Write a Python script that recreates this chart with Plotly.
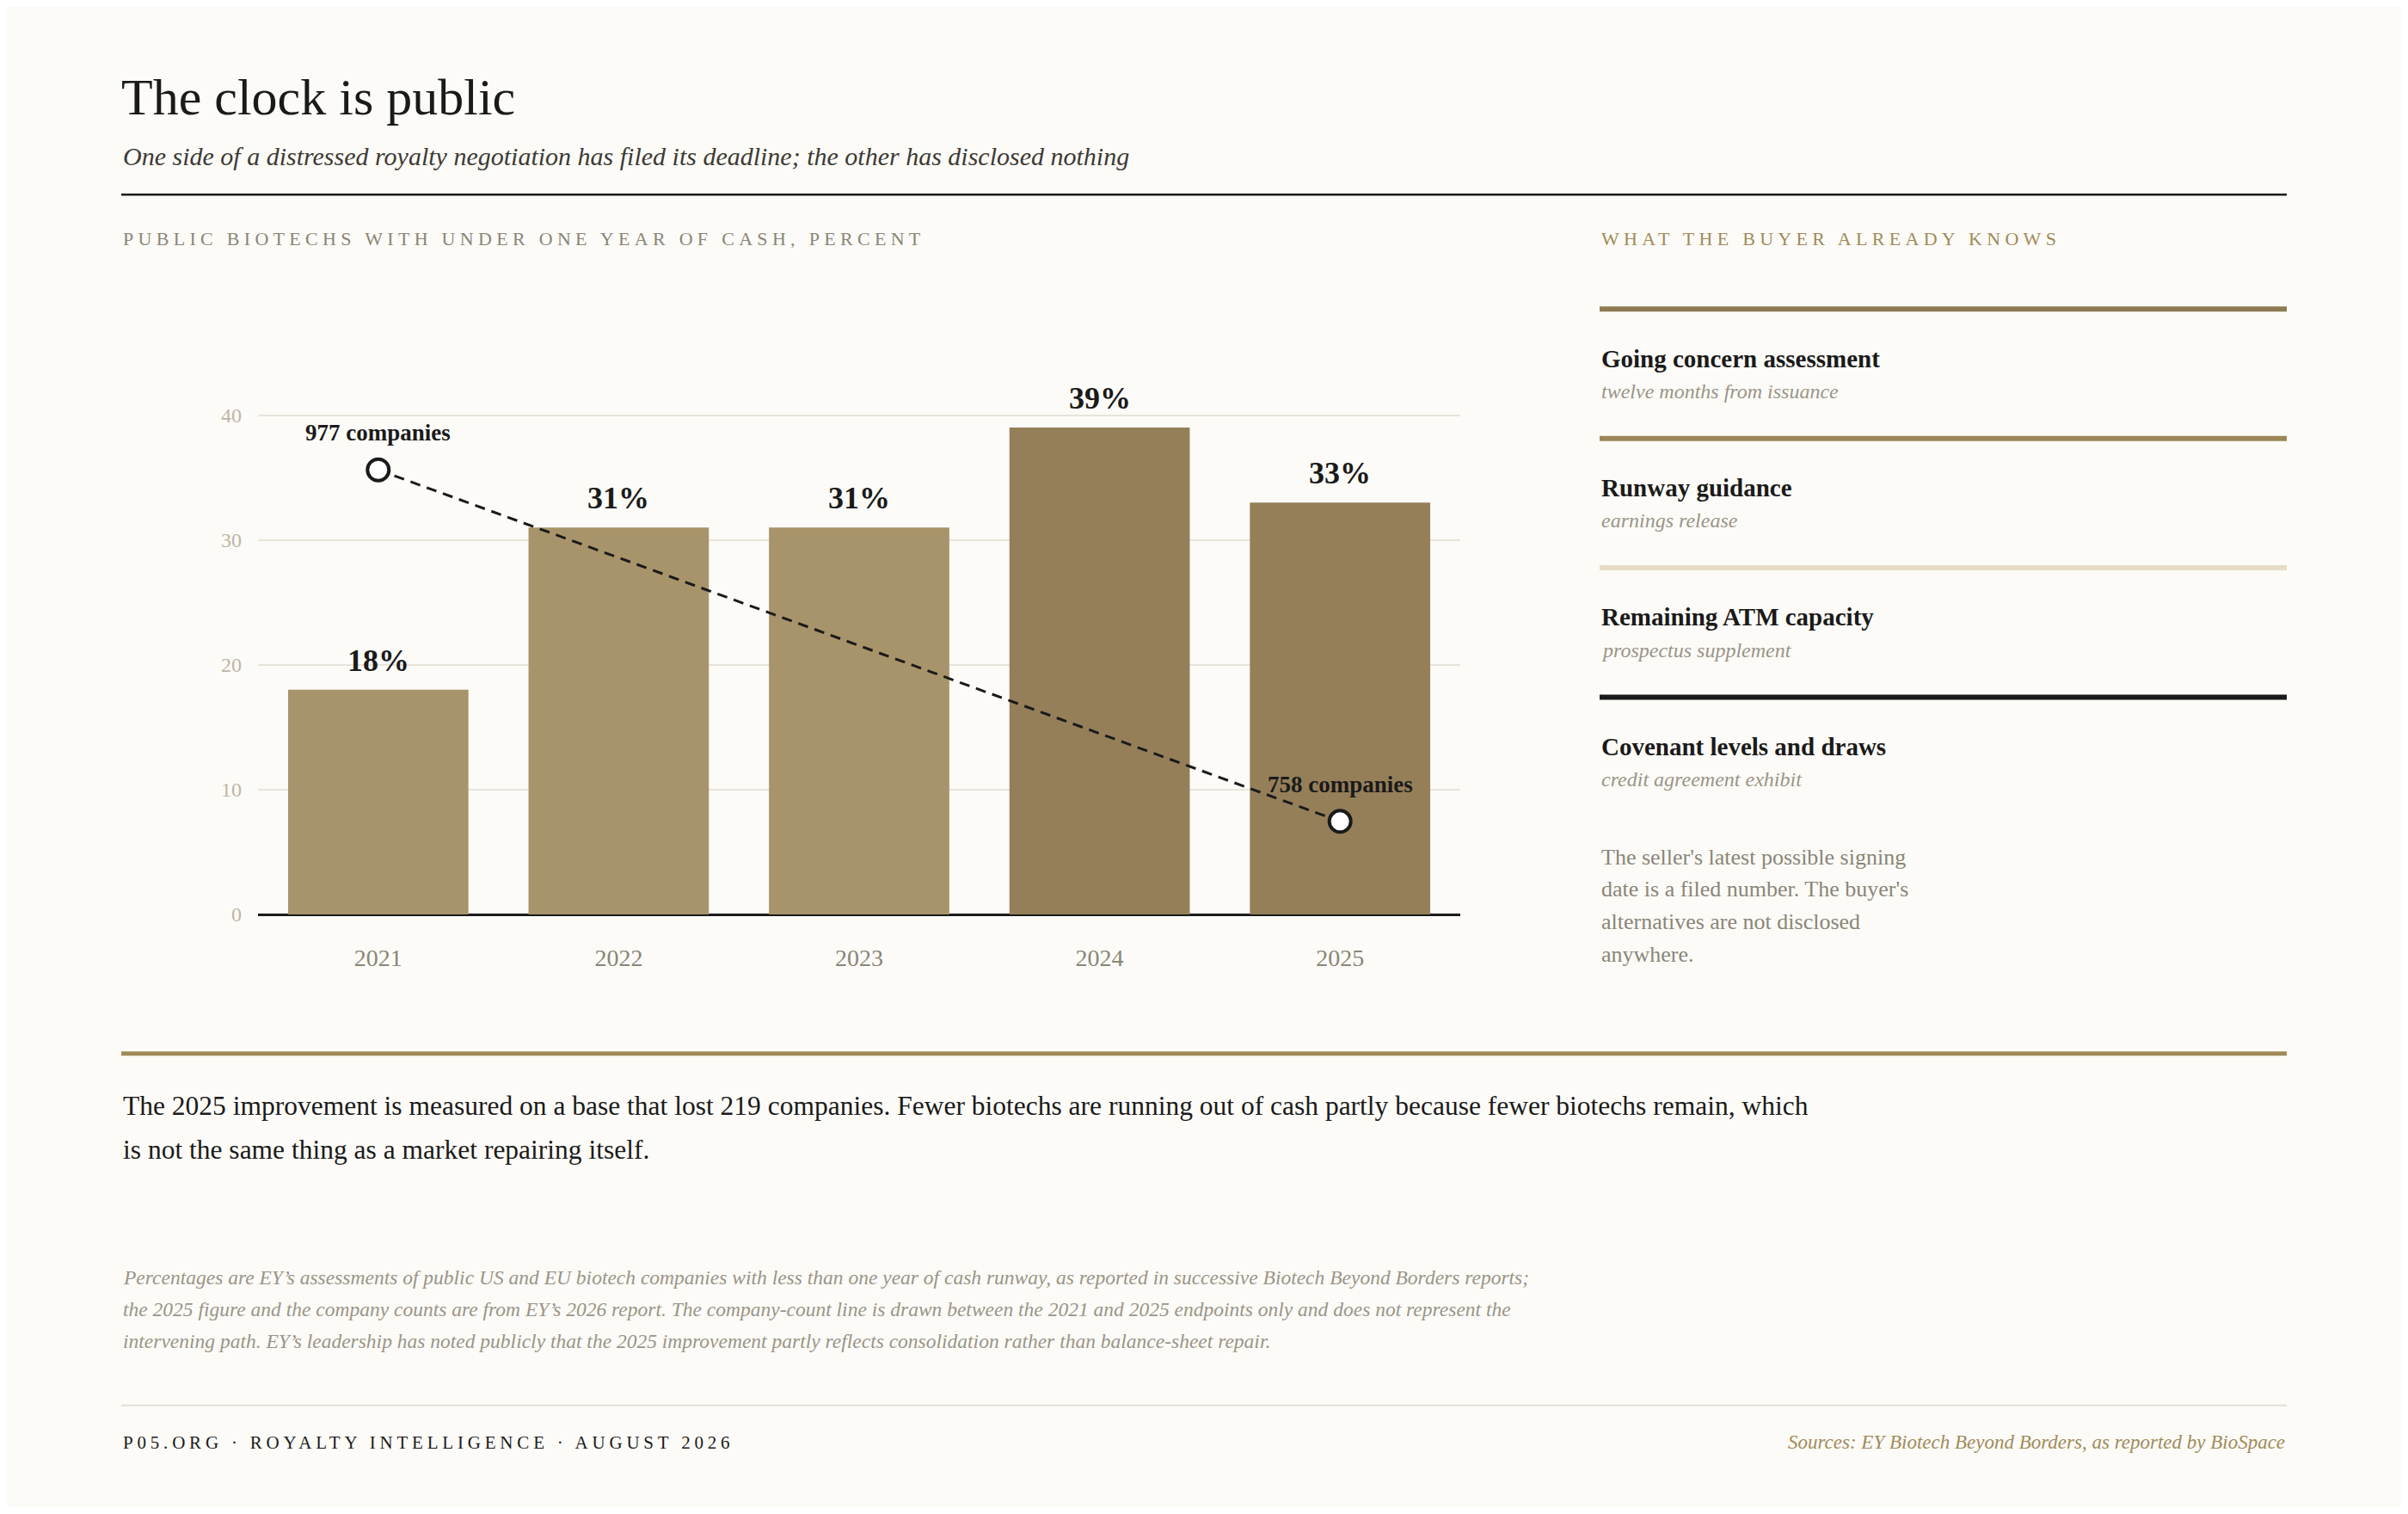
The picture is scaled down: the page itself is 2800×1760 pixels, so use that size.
import plotly.graph_objects as go

# 1. Data
years = ["2021", "2022", "2023", "2024", "2025"]
pct_under_one_year = [18, 31, 31, 39, 33]

count_years = ["2021", "2025"]
company_counts = [977, 758]

buyer_items = [
    "Going concern assessment",
    "Runway guidance",
    "Remaining ATM capacity",
    "Covenant levels and draws",
]
buyer_sources = [
    "twelve months from issuance",
    "earnings release",
    "prospectus supplement",
    "credit agreement exhibit",
]

side_note = [
    "The seller's latest possible signing",
    "date is a filed number. The buyer's",
    "alternatives are not disclosed",
    "anywhere.",
]
takeaway = [
    "The 2025 improvement is measured on a base that lost 219 companies. Fewer biotechs are running out of cash partly because fewer biotechs remain, which",
    "is not the same thing as a market repairing itself.",
]
footnote = [
    "Percentages are EY’s assessments of public US and EU biotech companies with less than one year of cash runway, as reported in successive Biotech Beyond Borders reports;",
    "the 2025 figure and the company counts are from EY’s 2026 report. The company-count line is drawn between the 2021 and 2025 endpoints only and does not represent the",
    "intervening path. EY’s leadership has noted publicly that the 2025 improvement partly reflects consolidation rather than balance-sheet repair.",
]

# 2. Style
# the page body keeps an 8px margin, so the figure sits 8px in from the corner
OFF = 8
W, H = 2784, 1744
SERIF = "Liberation Serif, Times New Roman, serif"
BG = "#fcfbf7"
INK = "#1a1a1a"
GRAY = "#8a8578"
SOFT = "#9a9488"
GOLD = "#a08a5a"
bar_colors = ["#a8946a", "#a8946a", "#a8946a", "#957f59", "#957f59"]
rule_colors = ["#8e7a52", "#9c8659", "#e6dcc6", "#1a1a1a"]


def px(x):
    return (x - OFF) / W


def py(y):
    return 1 - (y - OFF) / H


def spaced(text, gap=4.8):
    return f'<span style="letter-spacing:{gap}px">{text}</span>'


fig = go.Figure()

fig.add_trace(go.Bar(
    x=years, y=pct_under_one_year,
    marker=dict(color=bar_colors, line=dict(width=0)),
    hovertemplate="%{x}: %{y}%<extra></extra>",
))

# company-count endpoints on a hidden second axis
fig.add_trace(go.Scatter(
    x=count_years, y=company_counts, yaxis="y2",
    mode="lines+markers",
    line=dict(color=INK, width=3, dash="12px,8px"),
    marker=dict(symbol="circle", size=25, color="#ffffff",
                line=dict(color=INK, width=4)),
    hovertemplate="%{x}: %{y} companies<extra></extra>",
))

for i, v in enumerate(pct_under_one_year):
    fig.add_annotation(
        x=i, y=v, xref="x", yref="y", yanchor="bottom", yshift=12,
        text=f"{v}%", showarrow=False,
        font=dict(family=SERIF, size=36, color=INK, weight=700),
    )

for yr, c in zip(count_years, company_counts):
    fig.add_annotation(
        x=years.index(yr), y=c, xref="x", yref="y2", yanchor="bottom", yshift=26,
        text=f"{c} companies", showarrow=False,
        font=dict(family=SERIF, size=27, color=INK, weight=700),
    )


def note(text, x, base, size, color, italic=False, bold=False, xanchor="left"):
    fig.add_annotation(
        x=px(x), y=py(base - 0.32 * size), xref="paper", yref="paper",
        xanchor=xanchor, yanchor="middle", text=text, showarrow=False,
        font=dict(family=SERIF, size=size, color=color,
                  style="italic" if italic else "normal",
                  weight=700 if bold else 400),
    )


def rule(y, x0, x1, color, width):
    fig.add_shape(type="line", xref="paper", yref="paper",
                  x0=px(x0), x1=px(x1), y0=py(y), y1=py(y),
                  line=dict(color=color, width=width))


# header
note("The clock is public", 139, 133, 60, INK)
note("One side of a distressed royalty negotiation has filed its deadline; the other has disclosed nothing",
     141, 192, 30, "#3d3a35", italic=True)
rule(228, 141, 2659, INK, 2.5)
note(spaced("PUBLIC BIOTECHS WITH UNDER ONE YEAR OF CASH, PERCENT", 5.3), 141, 287, 22, GRAY)

# right panel
note(spaced("WHAT THE BUYER ALREADY KNOWS", 5.3), 1860, 287, 22, GOLD)
for i, (item, src) in enumerate(zip(buyer_items, buyer_sources)):
    top = 362 + i * 151.5
    rule(top, 1860, 2659, rule_colors[i], 6)
    note(item, 1860, top + 67, 29, INK, bold=True)
    note(src, 1860, top + 104, 24, SOFT, italic=True)
for i, line in enumerate(side_note):
    note(line, 1860, 1012 + i * 38, 26, GRAY)

# takeaway and notes
rule(1234, 141, 2659, GOLD, 5)
for i, line in enumerate(takeaway):
    note(line, 141, 1305 + i * 52, 31.5, INK)
for i, line in enumerate(footnote):
    note(line, 141, 1504 + i * 37, 23.5, SOFT, italic=True)

rule(1646, 141, 2659, "#e3e0d6", 2)
note(spaced("P05.ORG · ROYALTY INTELLIGENCE · AUGUST 2026"), 141, 1696, 21, INK)
note("Sources: EY Biotech Beyond Borders, as reported by BioSpace", 2659, 1696, 23, GOLD,
     italic=True, xanchor="right")

# 3. Layout
fig.update_layout(
    width=W, height=H,
    margin=dict(l=0, r=0, t=0, b=0),
    paper_bgcolor=BG, plot_bgcolor=BG,
    showlegend=False,
    bargap=0.25,
    font=dict(family=SERIF, color=INK),
    xaxis=dict(
        domain=[px(300), px(1698)], type="category",
        categoryorder="array", categoryarray=years,
        range=[-0.5, len(years) - 0.5],
        showgrid=False, showline=False, ticks="",
        tickfont=dict(family=SERIF, size=28, color=GRAY),
        ticklabelstandoff=31,
    ),
    yaxis=dict(
        domain=[py(1071), py(413)], range=[0, 45],
        tickvals=[0, 10, 20, 30, 40],
        showgrid=True, gridcolor="#e8e4da", gridwidth=2,
        zeroline=True, zerolinecolor=INK, zerolinewidth=3,
        showline=False, ticks="",
        tickfont=dict(family=SERIF, size=24, color="#bcb5a6"),
        ticklabelstandoff=18,
    ),
    yaxis2=dict(
        overlaying="y", range=[700, 1050], visible=False,
    ),
)

fig.write_html("out.html")
